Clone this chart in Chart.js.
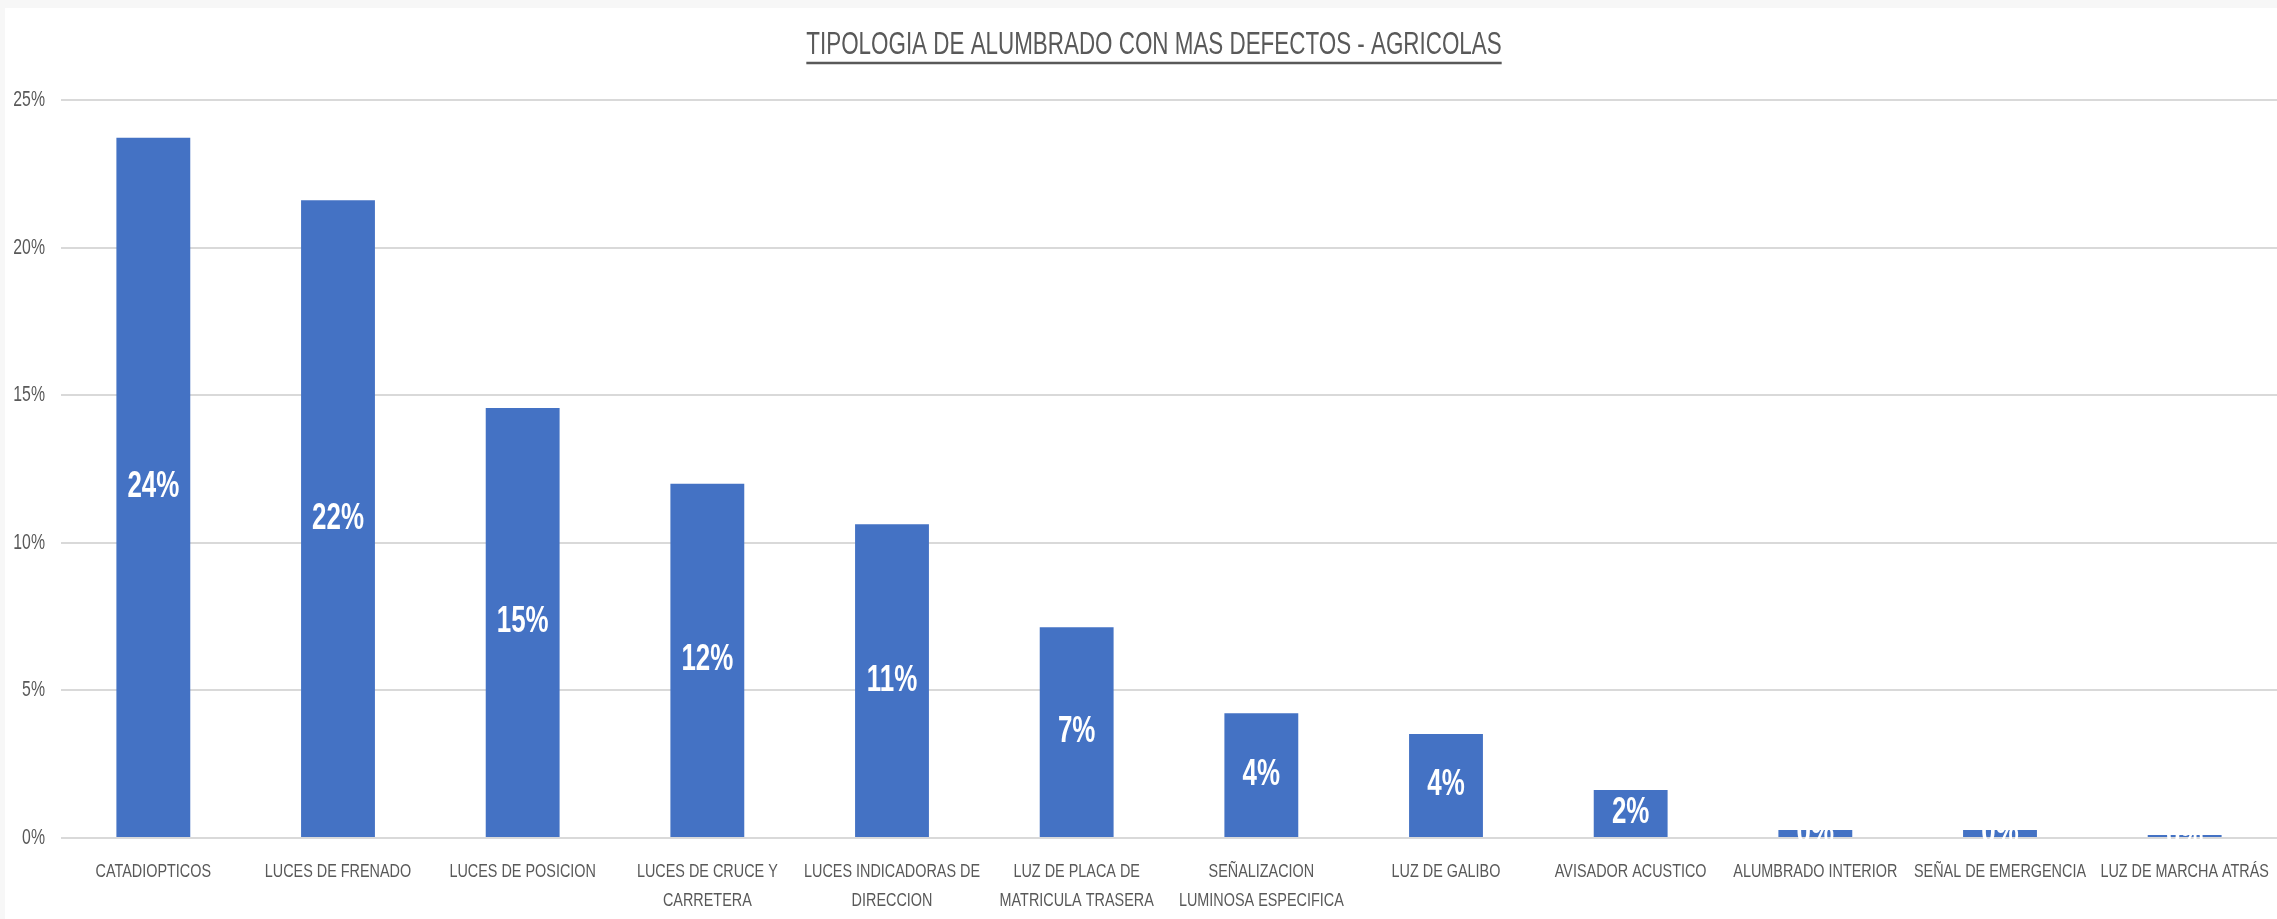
<!DOCTYPE html>
<html>
<head>
<meta charset="utf-8">
<script src="https://cdn.jsdelivr.net/npm/chart.js@4.4.0/dist/chart.umd.min.js"></script>
<style>
  html, body { margin: 0; padding: 0; background: #f7f7f7; }
  #wrap { position: absolute; left: 5px; top: 8px; width: 2272px; height: 911px; background: #fff; }
</style>
</head>
<body>
<div id="wrap"><canvas id="chart"></canvas></div>
<script>
const categories = [
  'CATADIOPTICOS',
  'LUCES DE FRENADO',
  'LUCES DE POSICION',
  ['LUCES DE CRUCE Y', 'CARRETERA'],
  ['LUCES INDICADORAS DE', 'DIRECCION'],
  ['LUZ DE PLACA DE', 'MATRICULA TRASERA'],
  ['SEÑALIZACION', 'LUMINOSA ESPECIFICA'],
  'LUZ DE GALIBO',
  'AVISADOR ACUSTICO',
  'ALUMBRADO INTERIOR',
  'SEÑAL DE EMERGENCIA',
  'LUZ DE MARCHA ATRÁS'
];
const porcentajes = [23.72, 21.6, 14.57, 12.0, 10.63, 7.14, 4.23, 3.52, 1.63, 0.27, 0.27, 0.1];
const yTicks = [0, 5, 10, 15, 20, 25];
const titulo = 'TIPOLOGIA DE ALUMBRADO CON MAS DEFECTOS - AGRICOLAS';

const gris = '#595959';
const fuente = '"Liberation Sans", Arial, sans-serif';

// texto estrecho (la fuente original es condensada)
function textoEstrecho(ctx, txt, x, y, font, sx, align) {
  ctx.save();
  ctx.font = font;
  ctx.textAlign = align;
  ctx.textBaseline = 'middle';
  ctx.translate(x, y);
  ctx.scale(sx, 1);
  ctx.fillText(txt, 0, 0);
  ctx.restore();
}

const etiquetas = {
  id: 'etiquetas',
  afterDatasetsDraw(chart) {
    const ctx = chart.ctx;
    ctx.fillStyle = '#fff';
    chart.getDatasetMeta(0).data.forEach((bar, i) => {
      textoEstrecho(ctx, Math.round(porcentajes[i]) + '%', bar.x, (bar.y + bar.base) / 2,
        'bold 36px ' + fuente, 0.72, 'center');
    });
  }
};

const ejes = {
  id: 'ejes',
  afterDraw(chart) {
    const ctx = chart.ctx;
    const xs = chart.scales.x, ys = chart.scales.y, area = chart.chartArea;
    ctx.fillStyle = gris;
    yTicks.forEach(v => {
      textoEstrecho(ctx, v + '%', 40, ys.getPixelForValue(v), '22px ' + fuente, 0.72, 'right');
    });
    categories.forEach((c, i) => {
      const lineas = Array.isArray(c) ? c : [c];
      const x = xs.getPixelForTick(i);
      lineas.forEach((l, j) => {
        textoEstrecho(ctx, l, x, area.bottom + 34 + j * 29, '18px ' + fuente, 0.8, 'center');
      });
    });
    // titulo subrayado
    const cx = (area.left + area.right) / 2 - 15;
    ctx.save();
    ctx.font = '32px ' + fuente;
    const w = ctx.measureText(titulo).width * 0.7;
    ctx.restore();
    textoEstrecho(ctx, titulo, cx, 37, '32px ' + fuente, 0.7, 'center');
    ctx.strokeStyle = gris;
    ctx.lineWidth = 2.5;
    ctx.beginPath();
    ctx.moveTo(cx - w / 2, 55);
    ctx.lineTo(cx + w / 2, 55);
    ctx.stroke();
  }
};

new Chart(document.getElementById('chart'), {
  type: 'bar',
  data: {
    labels: categories,
    datasets: [{
      data: porcentajes,
      backgroundColor: '#4472c4',
      categoryPercentage: 0.8,
      barPercentage: 0.5
    }]
  },
  options: {
    responsive: true,
    maintainAspectRatio: false,
    animation: false,
    layout: { padding: { left: 0, right: 0, top: 92, bottom: 0 } },
    plugins: {
      legend: { display: false },
      tooltip: { enabled: false },
      title: { display: false }
    },
    scales: {
      x: {
        grid: { display: false, drawTicks: false },
        border: { display: false },
        ticks: { display: false },
        afterFit(scale) {
          scale.height = 81;
          scale.paddingLeft = 0;
          scale.paddingRight = 0;
        }
      },
      y: {
        min: 0,
        max: 25,
        afterBuildTicks(scale) {
          scale.ticks = yTicks.map(v => ({ value: v }));
        },
        grid: { color: '#d9d9d9', lineWidth: 2, drawTicks: false },
        border: { display: false },
        ticks: { display: false },
        afterFit(scale) {
          scale.width = 56;
          scale.paddingTop = 0;
          scale.paddingBottom = 0;
        }
      }
    }
  },
  plugins: [etiquetas, ejes]
});
</script>
</body>
</html>
